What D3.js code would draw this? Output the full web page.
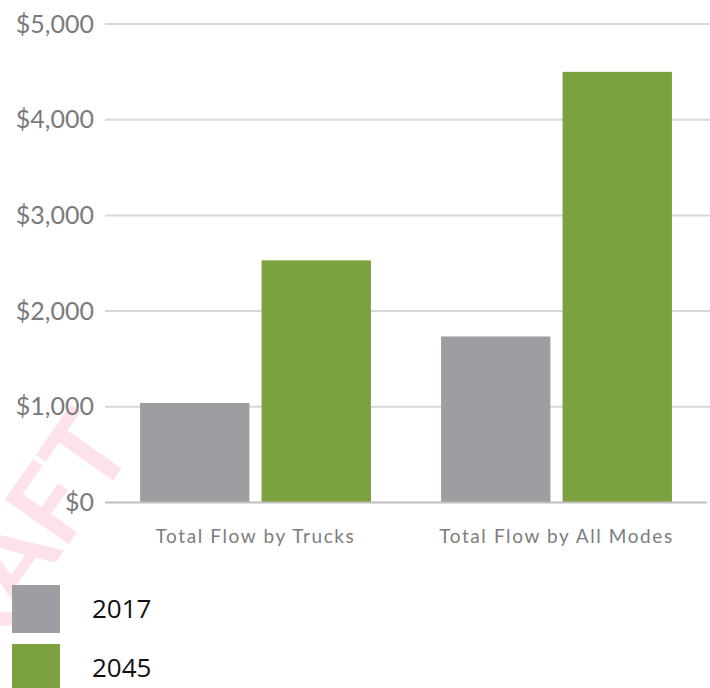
<!DOCTYPE html>
<html>
<head>
<meta charset="utf-8">
<script src="https://cdn.jsdelivr.net/npm/d3@7"></script>
<style>
  body { margin: 0; background: #fff; }
  svg { display: block; }
</style>
</head>
<body>
<div id="chart"></div>
<script>
// --- data ---
const categories = ['Total Flow by Trucks', 'Total Flow by All Modes'];
const years = ['2017', '2045'];
const values2017 = [1040, 1735];
const values2045 = [2530, 4500];
const yTicks = [0, 1000, 2000, 3000, 4000, 5000];

const colors = { '2017': '#9d9ea2', '2045': '#7ba23f' };

const width = 710, height = 688;

const svg = d3.select('#chart').append('svg')
  .attr('width', width)
  .attr('height', height);

// watermark behind everything
svg.append('text')
  .attr('transform', 'translate(136,448) rotate(-55)')
  .attr('text-anchor', 'end')
  .style('font-family', 'Lato, sans-serif')
  .style('font-weight', 700)
  .style('font-size', '108px')
  .style('fill', '#fde2ea')
  .text('DRAFT');

// --- scales ---
const y = d3.scaleLinear().domain([0, 5000]).range([502.5, 24]);

const x0 = d3.scaleBand()
  .domain(categories)
  .range([105, 707])
  .paddingInner(0.233)
  .paddingOuter(0.1165);

const x1 = d3.scaleBand()
  .domain(years)
  .range([0, x0.bandwidth()])
  .paddingInner(0.1);

// y labels
const yAxis = d3.axisLeft(y)
  .tickValues(yTicks)
  .tickSize(0)
  .tickPadding(11)
  .tickFormat(d => '$' + d3.format(',')(d));

const gy = svg.append('g')
  .attr('transform', 'translate(105,0)')
  .call(yAxis);
gy.select('.domain').remove();
gy.selectAll('text')
  .style('font-family', 'Lato, sans-serif')
  .style('font-size', '25px')
  .style('fill', '#7a7a7d');

// gridlines
svg.append('g').selectAll('line')
  .data(yTicks.filter(d => d > 0))
  .join('line')
  .attr('x1', 105).attr('x2', 710)
  .attr('y1', d => y(d)).attr('y2', d => y(d))
  .attr('stroke', '#d8d8d8')
  .attr('stroke-width', 2);

// bars
const rows = categories.map((c, i) => ({ cat: c, vals: [
  { year: '2017', v: values2017[i] },
  { year: '2045', v: values2045[i] }
]}));

svg.append('g').selectAll('g')
  .data(rows)
  .join('g')
  .attr('transform', d => `translate(${x0(d.cat)},0)`)
  .selectAll('rect')
  .data(d => d.vals)
  .join('rect')
  .attr('x', d => x1(d.year))
  .attr('width', x1.bandwidth())
  .attr('y', d => y(d.v))
  .attr('height', d => y(0) - y(d.v))
  .attr('fill', d => colors[d.year]);

// baseline
svg.append('line')
  .attr('x1', 105).attr('x2', 707)
  .attr('y1', y(0)).attr('y2', y(0))
  .attr('stroke', '#bdbdbd')
  .attr('stroke-width', 2);

// category labels
svg.append('g').selectAll('text')
  .data(categories)
  .join('text')
  .attr('x', d => x0(d) + x0.bandwidth() / 2)
  .attr('y', 543)
  .attr('text-anchor', 'middle')
  .style('font-family', 'Lato, sans-serif')
  .style('font-size', '19px')
  .style('letter-spacing', '1.6px')
  .style('fill', '#7d7d80')
  .text(d => d);

// legend
const legend = svg.append('g').selectAll('g')
  .data(years)
  .join('g')
  .attr('transform', (d, i) => `translate(12,${585 + i * 59})`);

legend.append('rect')
  .attr('width', 48)
  .attr('height', 48)
  .attr('fill', d => colors[d]);

legend.append('text')
  .attr('x', 80)
  .attr('y', 33)
  .style('font-family', '"Open Sans", sans-serif')
  .style('font-size', '26px')
  .style('fill', '#111')
  .text(d => d);
</script>
</body>
</html>
